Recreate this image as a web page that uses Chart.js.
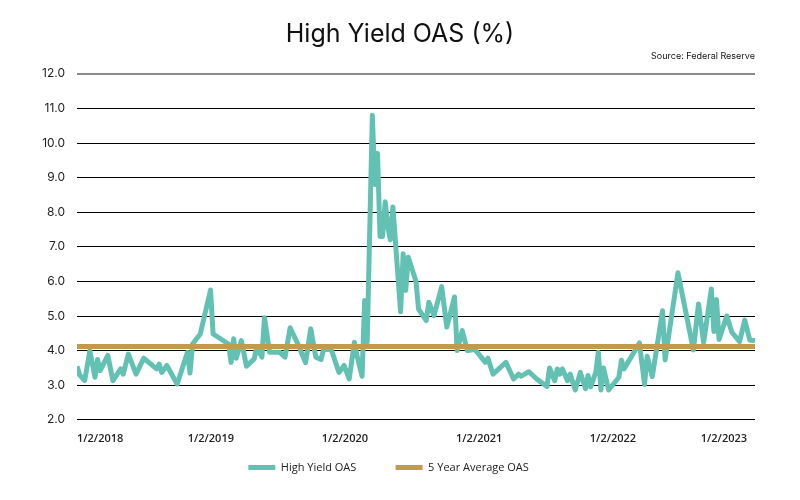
<!DOCTYPE html>
<html lang="en">
<head>
<meta charset="UTF-8">
<title>High Yield OAS (%)</title>
<script src="https://cdn.jsdelivr.net/npm/chart.js@4.4.1/dist/chart.umd.min.js"></script>
<style>
  html, body { margin: 0; padding: 0; background: #fff; }
  #wrap { width: 800px; height: 500px; }
</style>
</head>
<body>
<div id="wrap"><canvas id="oasChart"></canvas></div>
<script>
  // weeks since 1/2/2018 and the spread (%)
  var weeks = [0, 1, 3, 5, 7, 8, 9, 12, 14, 17, 18, 20, 23, 26, 31, 32, 33, 35, 39, 43,
    44, 45, 48, 52, 53, 59, 60, 61, 62, 64, 66, 69, 70, 72, 73, 75, 79, 81, 83, 86,
    89, 91, 93, 95, 96, 99, 102, 104, 106, 108, 109, 111, 112, 113, 115, 116, 117, 118, 119, 120,
    121, 122, 123, 126, 127, 128, 129, 132, 133, 136, 137, 139, 142, 144, 147, 148, 150, 152, 155, 159,
    160, 162, 167, 170, 172, 173, 176, 179, 183, 184, 186, 187, 188, 189, 191, 192, 194, 196, 198, 199,
    200, 202, 203, 204, 205, 207, 211, 212, 213, 219, 221, 222, 224, 228, 229, 234, 240, 242, 244, 247,
    248, 249, 250, 253, 255, 258, 260, 262, 264];
  var oas = [3.55, 3.30, 3.13, 4.00, 3.23, 3.74, 3.42, 3.86, 3.13, 3.47, 3.32, 3.90, 3.32, 3.78, 3.47, 3.61, 3.37, 3.57, 3.03, 3.95,
    3.35, 4.19, 4.48, 5.75, 4.48, 4.19, 3.66, 4.34, 3.78, 4.29, 3.55, 3.76, 4.10, 3.81, 4.95, 3.95, 3.95, 3.81, 4.66, 4.19,
    3.65, 4.63, 3.81, 3.74, 4.03, 4.03, 3.37, 3.57, 3.18, 4.24, 3.86, 3.26, 5.45, 4.24, 10.80, 8.80, 9.70, 7.30, 7.30, 8.30,
    7.60, 7.20, 8.15, 5.12, 6.80, 5.74, 6.70, 6.00, 5.20, 4.87, 5.40, 5.01, 5.85, 4.68, 5.55, 4.00, 4.58, 4.00, 4.03, 3.66,
    3.78, 3.32, 3.66, 3.18, 3.32, 3.26, 3.39, 3.18, 2.96, 3.50, 3.13, 3.47, 3.32, 3.47, 3.13, 3.32, 2.86, 3.37, 2.90, 3.28,
    2.95, 3.37, 3.95, 2.86, 3.50, 2.86, 3.23, 3.72, 3.47, 4.22, 3.02, 3.84, 3.25, 5.15, 3.73, 6.25, 4.02, 5.35, 4.24, 5.78,
    4.55, 5.48, 4.32, 5.00, 4.53, 4.26, 4.88, 4.30, 4.29];
  var avgOAS = 4.12;

  var tickWeeks = [0, 52.1, 104.3, 156.6, 208.7, 260.9];
  var tickLabels = ['1/2/2018', '1/2/2019', '1/2/2020', '1/2/2021', '1/2/2022', '1/2/2023'];

  var teal = '#62c1b3';
  var gold = '#c29a4b';

  var oasPoints = weeks.map(function (w, i) { return { x: w, y: oas[i] }; });
  var avgPoints = [{ x: weeks[0], y: avgOAS }, { x: weeks[weeks.length - 1], y: avgOAS }];

  var ctx = document.getElementById('oasChart').getContext('2d');

  var oasChart = new Chart(ctx, {
    type: 'line',
    data: {
      datasets: [{
        label: 'High Yield OAS',
        data: oasPoints,
        borderColor: teal,
        backgroundColor: teal,
        borderWidth: 5,
        borderJoinStyle: 'round',
        pointRadius: 0,
        tension: 0,
        order: 1
      }, {
        label: '5 Year Average OAS',
        data: avgPoints,
        borderColor: gold,
        backgroundColor: gold,
        borderWidth: 5,
        pointRadius: 0,
        order: 0
      }]
    },
    options: {
      responsive: true,
      maintainAspectRatio: false,
      animation: false,
      layout: { padding: { left: 0, right: 0, top: 11, bottom: 17 } },
      scales: {
        x: {
          type: 'linear',
          min: 0,
          max: 264,
          afterBuildTicks: function (scale) {
            scale.ticks = tickWeeks.map(function (v) { return { value: v }; });
          },
          grid: { display: false, drawTicks: false },
          border: { display: false },
          ticks: {
            align: 'inner',
            maxRotation: 0,
            padding: 12,
            color: '#222',
            font: { family: 'Open Sans', size: 11, weight: '600' },
            callback: function (value) {
              var i = tickWeeks.indexOf(value);
              return i >= 0 ? tickLabels[i] : '';
            }
          }
        },
        y: {
          min: 2,
          max: 12,
          afterFit: function (scale) { scale.width = 77; },
          grid: {
            drawTicks: false,
            color: function (c) { return c.tick && c.tick.value === 12 ? '#8a8a8a' : '#000'; },
            lineWidth: function (c) { return c.tick && c.tick.value === 12 ? 2 : 1; }
          },
          border: { display: false },
          ticks: {
            stepSize: 1,
            padding: 12,
            color: '#222',
            font: { family: 'Inter', size: 12 },
            callback: function (value) { return value.toFixed(1); }
          }
        },
        // empty right-hand margin so the title centres on the page
        yRight: {
          position: 'right',
          min: 2,
          max: 12,
          afterFit: function (scale) { scale.width = 45; },
          grid: { display: false, drawTicks: false },
          border: { display: false },
          ticks: { display: false }
        }
      },
      plugins: {
        title: {
          display: true,
          text: 'High Yield OAS (%)',
          color: '#111',
          font: { family: 'Inter', size: 25, weight: '400' },
          padding: { top: 8, bottom: 2 }
        },
        subtitle: {
          display: true,
          fullSize: false,
          text: 'Source: Federal Reserve',
          align: 'end',
          color: '#111',
          font: { family: 'Inter', size: 9 },
          padding: { top: 0, bottom: 12 }
        },
        legend: {
          position: 'bottom',
          labels: {
            boxWidth: 27,
            boxHeight: 5,
            padding: 5,
            color: '#222',
            font: { family: 'Open Sans', size: 11 },
            sort: function (a, b) { return a.datasetIndex - b.datasetIndex; },
            generateLabels: function (chart) {
              var items = Chart.defaults.plugins.legend.labels.generateLabels(chart);
              items.forEach(function (item) {
                item.lineWidth = 0;
                item.text = item.text + '            ';
                if (item.datasetIndex === 1) item.text = item.text.slice(0, -4);
              });
              return items;
            }
          }
        },
        tooltip: { enabled: false }
      }
    }
  });
</script>
</body>
</html>
